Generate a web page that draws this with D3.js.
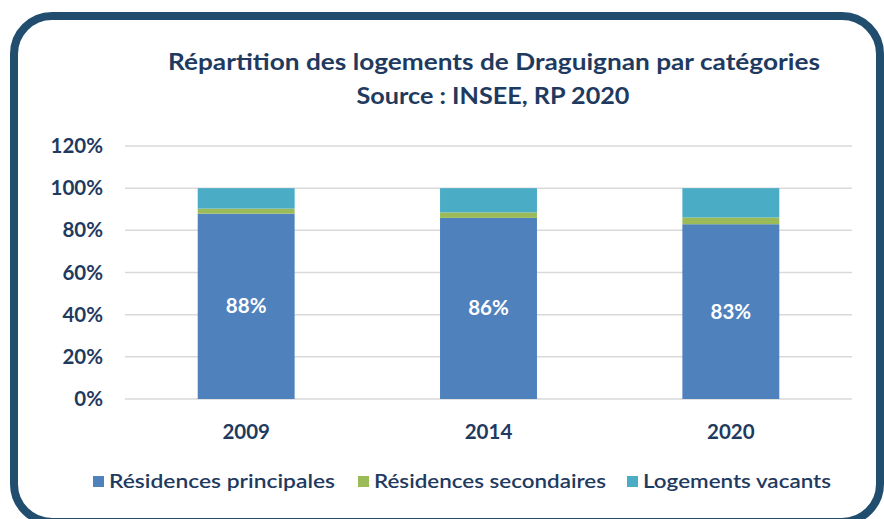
<!DOCTYPE html>
<html><head><meta charset="utf-8">
<script src="https://cdn.jsdelivr.net/npm/d3@7"></script>
<style>body{margin:0;background:#fff}svg{display:block}text{font-family:Lato,"Open Sans",sans-serif}</style>
</head><body><svg id="c" width="884" height="519"></svg>
<script>
const years = ["2009","2014","2020"];
const seriesNames = ["Résidences principales","Résidences secondaires","Logements vacants"];
const principales = [87.9, 85.9, 82.9];
const secondaires = [2.4, 2.6, 3.2];
const vacants = [9.7, 11.5, 13.9];
const labels = ["88%","86%","83%"];
const yTicks = [0,20,40,60,80,100,120];
const colors = ["#4f81bd","#9bbb59","#4bacc6"];
const txt = "#1f3a5f";

const svg = d3.select("#c");
svg.append("rect").attr("x",14).attr("y",16).attr("width",866).attr("height",506)
  .attr("rx",38).attr("fill","#fff").attr("stroke","#214e6f").attr("stroke-width",8);

const title = svg.append("g").attr("fill",txt).attr("font-weight","bold").attr("font-size",22).attr("text-anchor","middle");
title.append("text").attr("x",494).attr("y",70).text("Répartition des logements de Draguignan par catégories")
  .attr("textLength",652).attr("lengthAdjust","spacingAndGlyphs");
title.append("text").attr("x",493).attr("y",104).text("Source : INSEE, RP 2020")
  .attr("textLength",273).attr("lengthAdjust","spacingAndGlyphs");

const x = d3.scaleBand().domain(years).range([125,852]).paddingInner(0.6).paddingOuter(0.3);
const y = d3.scaleLinear().domain([0,120]).range([399,146]);

const grid = svg.append("g");
grid.selectAll("line").data(yTicks).join("line")
  .attr("x1",125).attr("x2",852).attr("y1",d=>y(d)).attr("y2",d=>y(d))
  .attr("stroke","#d9d9d9").attr("stroke-width",1.5);

const yAxis = svg.append("g").attr("transform","translate(112,0)")
  .call(d3.axisLeft(y).tickValues(yTicks).tickFormat(d=>d+"%").tickSize(0).tickPadding(9));
yAxis.select(".domain").remove();
yAxis.selectAll("text").attr("font-size",20.5).attr("font-weight","bold").attr("fill",txt).attr("font-family","Lato,sans-serif");

const data = years.map((yr,i)=>({year:yr, p:principales[i], s:secondaires[i], v:vacants[i]}));
const stack = d3.stack().keys(["p","s","v"])(data);
svg.append("g").selectAll("g").data(stack).join("g").attr("fill",(d,i)=>colors[i])
  .selectAll("rect").data(d=>d).join("rect")
  .attr("x",d=>x(d.data.year)).attr("width",x.bandwidth())
  .attr("y",d=>y(d[1])).attr("height",d=>y(d[0])-y(d[1]));

svg.append("g").selectAll("text").data(data).join("text")
  .attr("x",d=>x(d.year)+x.bandwidth()/2).attr("y",d=>y(d.p/2)+7)
  .attr("text-anchor","middle").attr("fill","#fff").attr("font-weight","bold").attr("font-size",20.5)
  .text((d,i)=>labels[i]);

const xAxis = svg.append("g").attr("transform","translate(0,399)")
  .call(d3.axisBottom(x).tickSize(0).tickPadding(25));
xAxis.select(".domain").remove();
xAxis.selectAll("text").attr("font-size",20.5).attr("font-weight","bold").attr("fill",txt).attr("font-family","Lato,sans-serif");

const legX = [93,358,627];
const legW = [226,232,188];
const leg = svg.append("g").selectAll("g").data(seriesNames).join("g")
  .attr("transform",(d,i)=>`translate(${legX[i]},476)`);
leg.append("rect").attr("width",11).attr("height",11).attr("fill",(d,i)=>colors[i]);
leg.append("text").attr("x",16).attr("y",12).attr("font-size",20).attr("fill",txt).attr("font-weight","600")
  .text(d=>d).attr("textLength",(d,i)=>legW[i]).attr("lengthAdjust","spacingAndGlyphs");
</script></body></html>
